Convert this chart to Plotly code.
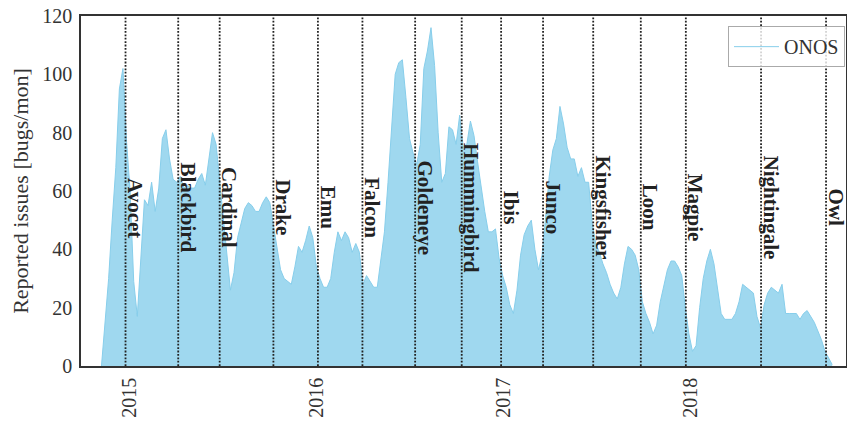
import pandas as pd
import plotly.graph_objects as go

# Weekly reported issues (bugs/month), starting 2014-11-07
start_date = "2014-11-07"
issues = [
    0, 16, 30, 50, 68, 95, 102, 77, 60, 29, 17, 37, 57, 55, 63, 53, 61, 78, 81, 71,
    64, 63, 65, 61, 62, 61, 61, 64, 66, 62, 71, 80, 76, 64, 51, 39, 26, 32, 44, 49,
    54, 56, 55, 53, 53, 56, 58, 56, 48, 41, 33, 30, 29, 28, 34, 41, 39, 43, 48, 44,
    34, 30, 27, 27, 30, 39, 46, 43, 46, 44, 39, 42, 39, 28, 31, 29, 27, 27, 37, 46,
    63, 81, 100, 104, 105, 92, 78, 73, 69, 76, 102, 108, 116, 103, 80, 63, 66, 82, 81, 76,
    86, 75, 76, 84, 79, 70, 61, 53, 46, 46, 47, 37, 31, 27, 21, 18, 26, 38, 45, 48,
    50, 40, 33, 38, 51, 65, 74, 78, 89, 83, 75, 71, 71, 65, 68, 63, 63, 49, 42, 39,
    35, 32, 28, 25, 23, 27, 35, 41, 40, 38, 33, 22, 18, 15, 11, 14, 22, 27, 33, 36,
    36, 34, 31, 20, 11, 5, 7, 20, 30, 36, 40, 35, 27, 18, 16, 16, 16, 18, 22, 28,
    27, 26, 25, 17, 13, 21, 25, 27, 26, 25, 28, 18, 18, 18, 18, 16, 18, 19, 17, 15,
    12, 9, 5, 2.5, 0.5,
]
dates = pd.date_range(start_date, periods=len(issues), freq="7D")

releases = ["Avocet", "Blackbird", "Cardinal", "Drake", "Emu", "Falcon", "Goldeneye",
            "Hummingbird", "Ibis", "Junco", "Kingsfisher", "Loon", "Magpie",
            "Nightingale", "Owl"]
release_dates = ["2014-12-24", "2015-04-06", "2015-06-26", "2015-10-09", "2016-01-04",
                 "2016-03-31", "2016-07-12", "2016-10-11", "2016-12-27", "2017-03-19",
                 "2017-06-25", "2017-09-26", "2017-12-23", "2018-05-19", "2018-09-23"]

year_ticks = ["2015-01-01", "2016-01-01", "2017-01-01", "2018-01-01"]
year_labels = ["2015", "2016", "2017", "2018"]
y_ticks = [0, 20, 40, 60, 80, 100, 120]

FONT = "Liberation Serif"
TXT = "#333333"

fig = go.Figure()
fig.add_trace(go.Scatter(
    x=dates, y=issues, mode="lines", fill="tozeroy",
    line=dict(color="rgb(135,206,235)", width=1),
    fillcolor="rgba(135,206,235,0.8)",
    showlegend=False, hoverinfo="skip",
))
# legend entry (line only)
fig.add_trace(go.Scatter(
    x=[None], y=[None], mode="lines", name="ONOS",
    line=dict(color="rgb(135,206,235)", width=1),
))

for name, d in zip(releases, release_dates):
    fig.add_shape(type="line", x0=d, x1=d, y0=0, y1=1, xref="x", yref="paper",
                  line=dict(color="#222222", width=1.8, dash="1.8px,1.6px"), layer="above")
    fig.add_annotation(x=d, y=54.3, xref="x", yref="y", text="<b>%s</b>" % name,
                       textangle=90, showarrow=False, xanchor="center", yanchor="middle",
                       xshift=10, font=dict(family=FONT, size=21, color="#222222"))

fig.update_layout(
    template="none",
    width=847, height=423,
    margin=dict(l=81, r=1, t=16, b=57),
    paper_bgcolor="white", plot_bgcolor="white",
    font=dict(family=FONT, size=20, color=TXT),
    legend=dict(x=0.9987, y=0.971, xanchor="right", yanchor="top",
                bgcolor="rgba(255,255,255,0.8)", bordercolor="#aaaaaa", borderwidth=1,
                font=dict(family=FONT, size=20, color=TXT), itemwidth=45),
    xaxis=dict(type="date", range=["2014-09-28", "2018-11-01"],
               tickvals=year_ticks, ticktext=year_labels, tickangle=-90,
               showgrid=False, zeroline=False, showline=True, mirror=True,
               linecolor="#333333", linewidth=1.5, ticks="", ticklabelstandoff=2,
               automargin=False, tickfont=dict(family=FONT, size=20, color=TXT)),
    yaxis=dict(range=[0, 120], tickvals=y_ticks, showgrid=False, zeroline=False,
               showline=True, mirror=True, linecolor="#333333", linewidth=1.5,
               ticks="", ticklabelstandoff=3, automargin=False,
               tickfont=dict(family=FONT, size=20, color=TXT),
               title=dict(text="Reported issues [bugs/mon]", standoff=8,
                          font=dict(family=FONT, size=22, color=TXT))),
)

fig.write_html("out.html", config={"displayModeBar": False},
               post_script="document.body.style.margin='0';")
